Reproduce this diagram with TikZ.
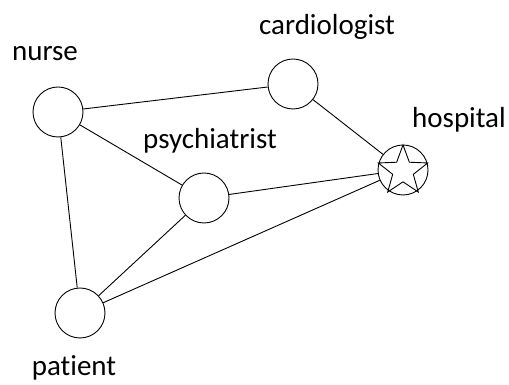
\documentclass[tikz,border=0pt]{standalone}
\usepackage{fontspec}
\setmainfont{Carlito}[Ligatures=NoCommon]
\usetikzlibrary{shapes.geometric}

\begin{document}
\begin{tikzpicture}[x=1pt,y=1pt,
        actor/.style={draw,circle,minimum size=50pt,inner sep=0pt,line width=0.9pt},
        rolle/.style={font=\fontsize{29}{34}\selectfont,anchor=base,inner sep=0pt},
        tie/.style={line width=0.9pt}
        ]
    \useasboundingbox (0,0) rectangle (509,385);

    % Akteure
    \node[actor] (nurse)   at (58,273) {};
    \node[actor] (cardio)  at (293,301) {};
    \node[actor] (psych)   at (204,187) {};
    \node[actor] (hosp)    at (403,215) {};
    \node[actor] (patient) at (80,72) {};
    \node[draw,star,star points=5,star point ratio=2.4,minimum size=52pt,
          inner sep=0pt,outer sep=0pt,line width=0.9pt] (hstar) at ([yshift=-1pt]hosp) {};

    % Beschriftungen
    \node[rolle] (nurseT)   at (45,324) {nurse};
    \node[rolle] (cardioT)  at (327,350) {cardiologist};
    \node[rolle] (psychT)   at (210,236) {psychiatrist};
    \node[rolle] (hospT)    at (459,257) {hospital};
    \node[rolle] (patientT) at (74,9) {patient};

    % Verbindungen
    \draw[tie] (nurse) -- (cardio)
               (cardio) -- (hosp)
               (nurse) -- (psych)
               (nurse) -- (patient)
               (psych) -- (hosp)
               (psych) -- (patient)
               (patient) -- (hosp);
\end{tikzpicture}
\end{document}
